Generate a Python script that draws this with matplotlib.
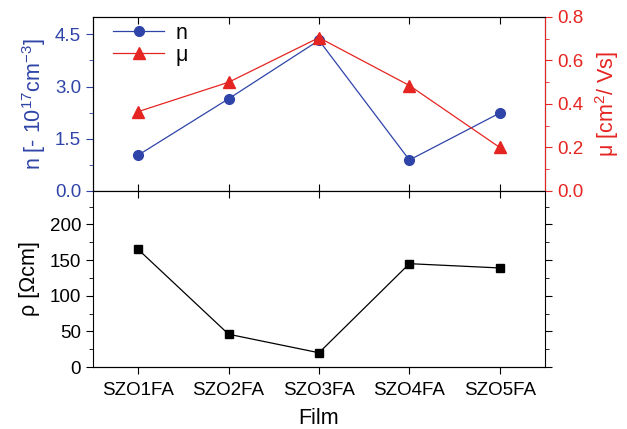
import matplotlib
matplotlib.use('Agg')
import matplotlib.pyplot as plt
from matplotlib.ticker import MultipleLocator, NullFormatter

plt.rcParams['font.family'] = ['Liberation Sans', 'DejaVu Sans']
plt.rcParams['mathtext.fontset'] = 'custom'
plt.rcParams['mathtext.rm'] = 'Liberation Sans'

films = ['SZO1FA', 'SZO2FA', 'SZO3FA', 'SZO4FA', 'SZO5FA']
n_vals = [1.03, 2.65, 4.33, 0.89, 2.24]
mu_vals = [0.365, 0.50, 0.705, 0.485, 0.20]
rho_vals = [165, 46, 20, 145, 139]

blue = '#2f44a8'
red = '#e52521'
x = list(range(1, len(films) + 1))
tfs = 13.5
lfs = 15.5

fig = plt.figure(figsize=(6.27, 4.29), dpi=100)
ax1 = fig.add_axes([0.1483, 0.5548, 0.7209, 0.4056])
ax3 = fig.add_axes([0.1483, 0.1445, 0.7209, 0.4103])
ax2 = ax1.twinx()

# top panel
l1, = ax1.plot(x, n_vals, color=blue, marker='o', markersize=7, lw=0.9, label='n')
l2, = ax2.plot(x, mu_vals, color=red, marker='^', markersize=8, lw=0.9, label='μ')

ax1.set_xlim(0.5, 5.5)
ax1.set_ylim(0, 5.0)
ax1.yaxis.set_major_locator(MultipleLocator(1.5))
ax1.yaxis.set_minor_locator(MultipleLocator(0.75))
ax1.yaxis.set_major_formatter(plt.FormatStrFormatter('%.1f'))
ax1.set_xticks(x)
ax1.xaxis.set_major_formatter(NullFormatter())
ax1.tick_params(axis='x', direction='in', top=True, bottom=True, length=5)
ax1.tick_params(axis='y', which='both', direction='out', colors=blue, labelsize=tfs)
ax1.tick_params(axis='y', which='major', length=5)
ax1.tick_params(axis='y', which='minor', length=3)
ax1.set_ylabel('n [- 10$^{17}$cm$^{-3}$]', color=blue, fontsize=lfs, labelpad=5)

ax2.set_ylim(0, 0.8)
ax2.yaxis.set_major_locator(MultipleLocator(0.2))
ax2.yaxis.set_minor_locator(MultipleLocator(0.1))
ax2.yaxis.set_major_formatter(plt.FormatStrFormatter('%.1f'))
ax2.tick_params(axis='y', which='both', direction='out', colors=red, labelsize=tfs)
ax2.tick_params(axis='y', which='major', length=5)
ax2.tick_params(axis='y', which='minor', length=3)
ax2.spines['right'].set_color(red)
ax2.set_ylabel('μ [cm$^{2}$/ Vs]', color=red, fontsize=lfs, labelpad=7)

ax1.legend(handles=[l1, l2], loc='upper left', frameon=False, fontsize=lfs,
           handlelength=2.4, borderaxespad=0.1, labelspacing=0.05,
           handletextpad=0.5, bbox_to_anchor=(0.02, 1.03))

# bottom panel
ax3.plot(x, rho_vals, color='black', marker='s', markersize=6, lw=0.9)
ax3.set_xlim(0.5, 5.5)
ax3.set_ylim(0, 247)
ax3.set_xticks(x)
ax3.yaxis.set_major_locator(MultipleLocator(50))
ax3.yaxis.set_minor_locator(MultipleLocator(25))
ax3.tick_params(axis='x', which='major', direction='in', length=5,
                top=True, bottom=False, labelbottom=False)
ax3.tick_params(axis='y', which='both', direction='out', right=True, labelsize=tfs)
ax3.tick_params(axis='y', which='major', length=5)
ax3.tick_params(axis='y', which='minor', length=3)
ax3.set_ylabel('ρ [Ωcm]', fontsize=lfs, labelpad=7)

# bottom x ticks drawn outward with labels
ax3b = ax3.secondary_xaxis('bottom')
ax3b.set_xticks(x)
ax3b.set_xticklabels(films)
ax3b.tick_params(direction='out', length=5, labelsize=tfs, pad=6)
ax3b.set_xlabel('Film', fontsize=lfs, labelpad=6)

fig.savefig('out.png', dpi=100)
